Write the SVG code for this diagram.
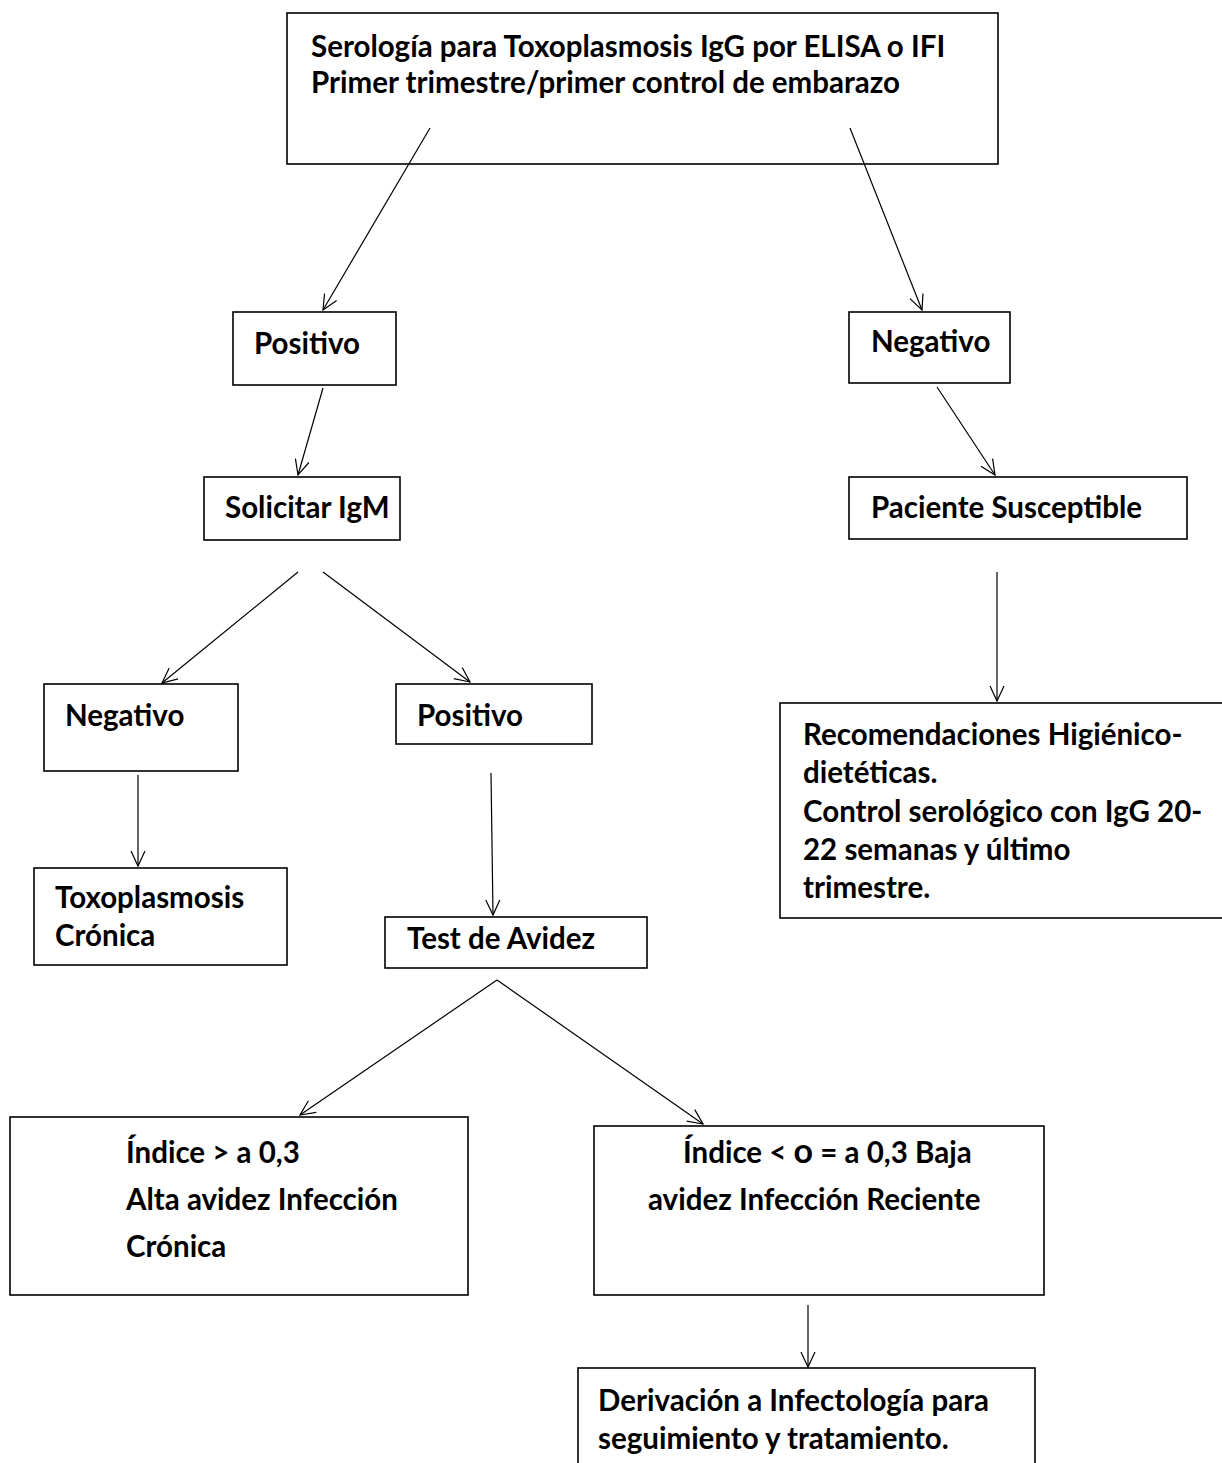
<svg xmlns="http://www.w3.org/2000/svg" width="1222" height="1463" viewBox="0 0 1222 1463">
<style>
.box{fill:#fff;stroke:#000;stroke-width:1.6}
.t{font-family:Lato,"Liberation Sans",sans-serif;font-weight:bold;font-size:29.5px;fill:#000}
.c{fill:none;stroke:#000;stroke-width:1.2}
</style>
<defs>
<marker id="a" markerUnits="userSpaceOnUse" markerWidth="20" markerHeight="20" viewBox="0 0 20 20" refX="16" refY="8" orient="auto">
<path d="M1,1 L16,8 L1,15" fill="none" stroke="#000" stroke-width="1.2"/>
</marker>
</defs>
<rect width="1222" height="1463" fill="#fff"/>
<g id="n-top"><rect class="box" x="287" y="13" width="711" height="151"/>
<text class="t" x="311" y="57">Serología para Toxoplasmosis IgG por ELISA o IFI</text>
<text class="t" x="311" y="93">Primer trimestre/primer control de embarazo</text></g>
<g id="n-pos1"><rect class="box" x="233" y="312" width="163" height="73"/><text class="t" x="254" y="354">Positivo</text></g>
<g id="n-neg1"><rect class="box" x="849" y="312" width="161" height="71"/><text class="t" x="871" y="352">Negativo</text></g>
<g id="n-igm"><rect class="box" x="204" y="477" width="196" height="63"/><text class="t" x="225" y="518">Solicitar IgM</text></g>
<g id="n-susc"><rect class="box" x="849" y="477" width="338" height="62"/><text class="t" x="871" y="518">Paciente Susceptible</text></g>
<g id="n-neg2"><rect class="box" x="44" y="684" width="194" height="87"/><text class="t" x="65" y="726">Negativo</text></g>
<g id="n-pos2"><rect class="box" x="396" y="684" width="196" height="60"/><text class="t" x="417" y="726">Positivo</text></g>
<g id="n-rec"><rect class="box" x="780" y="703" width="460" height="215"/>
<text class="t" x="803" y="745">Recomendaciones Higiénico-</text>
<text class="t" x="803" y="783">dietéticas.</text>
<text class="t" x="803" y="822">Control serológico con IgG 20-</text>
<text class="t" x="803" y="860">22 semanas y último</text>
<text class="t" x="803" y="898">trimestre.</text></g>
<g id="n-cron"><rect class="box" x="34" y="868" width="253" height="97"/>
<text class="t" x="55" y="908">Toxoplasmosis</text>
<text class="t" x="55" y="946">Crónica</text></g>
<g id="n-avidez"><rect class="box" x="385" y="917" width="262" height="51"/><text class="t" x="407" y="949">Test de Avidez</text></g>
<g id="n-alta"><rect class="box" x="10" y="1117" width="458" height="178"/>
<text class="t" x="126" y="1163">Índice &gt; a 0,3</text>
<text class="t" x="126" y="1210">Alta avidez Infección</text>
<text class="t" x="126" y="1257">Crónica</text></g>
<g id="n-baja"><rect class="box" x="594" y="1126" width="450" height="169"/>
<text class="t" x="683" y="1163">Índice &lt; <tspan style="font-size:34px">o</tspan> = a 0,3 Baja</text>
<text class="t" x="648" y="1210">avidez Infección Reciente</text></g>
<g id="n-deriv"><rect class="box" x="578" y="1368" width="457" height="110"/>
<text class="t" x="598" y="1411">Derivación a Infectología para</text>
<text class="t" x="598" y="1449">seguimiento y tratamiento.</text></g>
<g id="connectors">
<line class="c" x1="430" y1="128" x2="323" y2="310" marker-end="url(#a)"/>
<line class="c" x1="850" y1="128" x2="922" y2="310" marker-end="url(#a)"/>
<line class="c" x1="323" y1="388" x2="298" y2="475" marker-end="url(#a)"/>
<line class="c" x1="937" y1="387" x2="995" y2="475" marker-end="url(#a)"/>
<line class="c" x1="298" y1="572" x2="162" y2="683" marker-end="url(#a)"/>
<line class="c" x1="323" y1="572" x2="470" y2="682" marker-end="url(#a)"/>
<line class="c" x1="997" y1="572" x2="997" y2="701" marker-end="url(#a)"/>
<line class="c" x1="138" y1="775" x2="138" y2="866" marker-end="url(#a)"/>
<line class="c" x1="491" y1="773" x2="493" y2="915" marker-end="url(#a)"/>
<line class="c" x1="497" y1="980" x2="300" y2="1115" marker-end="url(#a)"/>
<line class="c" x1="497" y1="980" x2="703" y2="1124" marker-end="url(#a)"/>
<line class="c" x1="808" y1="1305" x2="808" y2="1367" marker-end="url(#a)"/>
</g>
</svg>
